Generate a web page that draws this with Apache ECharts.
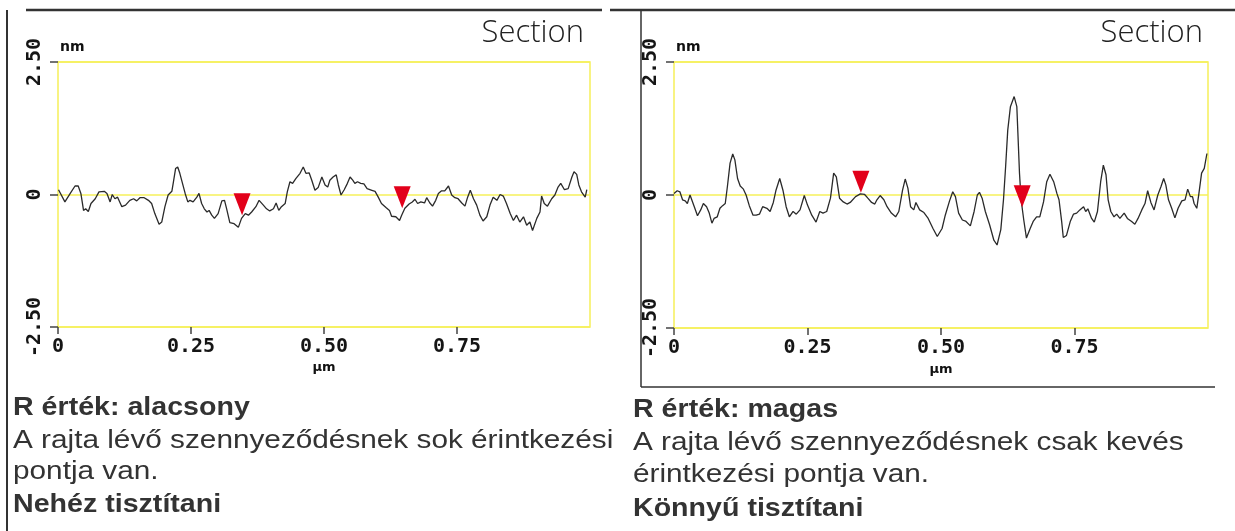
<!DOCTYPE html>
<html>
<head>
<meta charset="utf-8">
<script src="https://cdn.jsdelivr.net/npm/echarts@6/dist/echarts.min.js"></script>
<style>
html,body{margin:0;padding:0;background:#fff;}
#main{width:1235px;height:531px;}
</style>
</head>
<body>
<div id="main"></div>
<script>
// section profile, low R value (left)
var lowX = [0.001,0.013,0.023,0.032,0.038,0.043,0.048,0.052,0.057,0.062,
    0.070,0.077,0.087,0.092,0.098,0.102,0.107,0.112,0.120,0.127,
    0.135,0.142,0.148,0.154,0.162,0.170,0.176,0.182,0.190,0.195,
    0.201,0.207,0.214,0.217,0.221,0.225,0.229,0.234,0.239,0.244,
    0.248,0.254,0.261,0.265,0.270,0.275,0.280,0.284,0.289,0.294,
    0.301,0.308,0.313,0.317,0.323,0.331,0.339,0.345,0.352,0.358,
    0.364,0.372,0.378,0.386,0.392,0.398,0.405,0.410,0.415,0.420,
    0.427,0.431,0.436,0.441,0.447,0.455,0.461,0.466,0.472,0.477,
    0.483,0.489,0.496,0.502,0.507,0.511,0.517,0.523,0.527,0.532,
    0.538,0.544,0.549,0.554,0.558,0.563,0.569,0.575,0.581,0.590,
    0.596,0.602,0.608,0.617,0.623,0.627,0.635,0.642,0.646,0.652,
    0.660,0.666,0.671,0.676,0.682,0.689,0.693,0.699,0.704,0.710,
    0.715,0.721,0.727,0.734,0.740,0.746,0.752,0.759,0.765,0.770,
    0.775,0.781,0.787,0.793,0.799,0.806,0.812,0.818,0.825,0.831,
    0.837,0.843,0.850,0.856,0.862,0.868,0.875,0.881,0.887,0.892,
    0.900,0.906,0.909,0.914,0.920,0.928,0.934,0.940,0.945,0.952,
    0.959,0.966,0.970,0.975,0.979,0.984,0.991,0.994];
var lowY = [0.09,-0.14,0.02,0.16,0.16,0.02,-0.30,-0.27,-0.32,-0.17,
    -0.08,0.05,0.06,0.02,-0.14,0.00,-0.08,-0.05,-0.23,-0.20,
    -0.11,-0.08,-0.12,-0.06,-0.06,-0.11,-0.17,-0.36,-0.56,-0.52,
    -0.23,-0.01,0.06,0.24,0.49,0.52,0.40,0.21,0.02,-0.14,
    -0.11,-0.14,-0.05,0.02,-0.17,-0.27,-0.33,-0.30,-0.39,-0.45,
    -0.36,-0.12,-0.11,-0.27,-0.53,-0.55,-0.62,-0.45,-0.36,-0.39,
    -0.33,-0.23,-0.11,-0.20,-0.27,-0.31,-0.27,-0.16,-0.30,-0.23,
    -0.17,0.05,0.24,0.21,0.30,0.40,0.52,0.40,0.41,0.27,
    0.08,0.13,0.33,0.18,0.14,0.27,0.33,0.37,0.18,-0.01,
    0.09,0.21,0.33,0.27,0.21,0.24,0.21,0.20,0.11,0.08,
    0.06,-0.05,-0.17,-0.25,-0.30,-0.41,-0.42,-0.49,-0.39,-0.26,
    -0.18,-0.14,-0.09,-0.17,-0.14,-0.16,-0.06,-0.16,-0.22,-0.11,
    0.02,0.07,0.07,0.16,-0.01,-0.06,-0.08,-0.16,-0.22,-0.05,
    0.08,-0.08,-0.20,-0.39,-0.50,-0.42,-0.20,-0.05,-0.11,0.00,
    -0.03,-0.17,-0.36,-0.49,-0.39,-0.52,-0.42,-0.58,-0.52,-0.68,
    -0.45,-0.33,-0.03,-0.17,-0.22,-0.08,-0.01,0.14,0.21,0.09,
    0.11,0.33,0.43,0.38,0.18,0.05,-0.05,0.09];

// section profile, high R value (right)
var highX = [0.000,0.006,0.011,0.016,0.021,0.025,0.030,0.033,0.038,0.044,
    0.050,0.055,0.061,0.066,0.071,0.075,0.081,0.086,0.091,0.096,
    0.100,0.105,0.110,0.114,0.119,0.124,0.130,0.135,0.141,0.148,
    0.154,0.160,0.166,0.174,0.180,0.186,0.191,0.198,0.204,0.210,
    0.216,0.223,0.229,0.236,0.244,0.250,0.258,0.266,0.273,0.279,
    0.286,0.293,0.299,0.304,0.310,0.317,0.324,0.330,0.340,0.349,
    0.357,0.363,0.370,0.376,0.380,0.386,0.393,0.399,0.407,0.415,
    0.421,0.428,0.433,0.438,0.443,0.449,0.453,0.460,0.468,0.476,
    0.485,0.493,0.502,0.508,0.516,0.522,0.527,0.533,0.540,0.546,
    0.555,0.562,0.568,0.572,0.577,0.583,0.591,0.599,0.605,0.612,
    0.617,0.621,0.625,0.630,0.637,0.642,0.644,0.647,0.650,0.655,
    0.660,0.667,0.673,0.679,0.685,0.692,0.698,0.704,0.711,0.717,
    0.721,0.726,0.729,0.735,0.742,0.748,0.754,0.760,0.767,0.771,
    0.775,0.782,0.787,0.793,0.799,0.804,0.809,0.813,0.818,0.824,
    0.829,0.835,0.843,0.849,0.857,0.863,0.869,0.876,0.882,0.887,
    0.893,0.899,0.906,0.912,0.917,0.921,0.926,0.932,0.938,0.944,
    0.951,0.957,0.962,0.967,0.971,0.974,0.979,0.983,0.988,0.993,
    0.998];
var highY = [0.03,0.08,0.06,-0.09,-0.11,-0.16,0.00,-0.03,-0.22,-0.39,
    -0.28,-0.16,-0.22,-0.34,-0.53,-0.44,-0.41,-0.25,-0.20,-0.16,
    0.16,0.60,0.77,0.66,0.31,0.17,0.11,0.00,-0.20,-0.38,
    -0.38,-0.36,-0.22,-0.25,-0.31,-0.14,0.09,0.31,0.09,-0.22,
    -0.41,-0.31,-0.36,-0.28,-0.01,-0.19,-0.38,-0.51,-0.31,-0.34,
    -0.31,-0.06,0.41,0.34,-0.06,-0.13,-0.17,-0.14,-0.03,0.02,
    0.01,-0.06,-0.14,-0.17,-0.09,-0.01,-0.09,-0.22,-0.34,-0.41,
    -0.31,0.09,0.30,0.13,-0.22,-0.28,-0.14,-0.28,-0.33,-0.44,
    -0.63,-0.78,-0.63,-0.38,-0.11,0.06,-0.03,-0.34,-0.47,-0.49,
    -0.58,-0.31,0.00,0.05,-0.06,-0.31,-0.56,-0.85,-0.94,-0.65,
    -0.09,0.53,1.22,1.66,1.85,1.66,1.16,0.41,-0.09,-0.47,
    -0.81,-0.63,-0.49,-0.41,-0.41,-0.13,0.25,0.39,0.25,0.03,
    -0.09,-0.50,-0.80,-0.76,-0.50,-0.36,-0.34,-0.28,-0.22,-0.31,
    -0.26,-0.44,-0.51,-0.31,0.25,0.56,0.38,-0.09,-0.31,-0.41,
    -0.36,-0.44,-0.34,-0.44,-0.50,-0.55,-0.44,-0.28,-0.16,0.08,
    -0.14,-0.28,0.00,0.16,0.31,0.19,-0.09,-0.25,-0.43,-0.25,
    -0.11,-0.09,0.11,-0.03,-0.03,-0.16,-0.25,0.03,0.41,0.50,
    0.78];

// cursor (red triangle) positions
var lowCursorX = [0.346, 0.647];
var lowCursorY = [-0.39, -0.26];
var highCursorX = [0.350, 0.652];
var highCursorY = [0.04, -0.23];

var xTicks = [0, 0.25, 0.5, 0.75];
var yTicks = [-2.5, 0, 2.5];

function pairs(xs, ys) {
    return xs.map(function (x, i) { return [x, ys[i]]; });
}

var yellow = "#f6f05a";
var tickFont = { fontFamily: "DejaVu Sans Mono", fontWeight: "bold", fontSize: 20, color: "#151515" };

function makeX(gi) {
    return {
        type: "value", gridIndex: gi, min: 0, max: 1, interval: 0.25,
        name: "\u03bcm", nameLocation: "middle", nameGap: 34,
        nameTextStyle: { fontFamily: "DejaVu Sans", fontWeight: "bold", fontSize: 13, color: "#111" },
        axisLine: { show: false, onZero: false },
        axisTick: { show: true, length: 7, customValues: xTicks, lineStyle: { color: "#444", width: 1.5 } },
        axisLabel: Object.assign({
            margin: 10, customValues: xTicks,
            formatter: function (v) { return v === 0 ? "0" : v.toFixed(2); }
        }, tickFont),
        splitLine: { show: false }
    };
}

function makeY(gi) {
    return {
        type: "value", gridIndex: gi, min: -2.5, max: 2.5, interval: 2.5,
        name: "nm", nameLocation: "end", nameGap: 8,
        nameTextStyle: { align: "left", fontFamily: "DejaVu Sans", fontWeight: "bold", fontSize: 14, color: "#111", padding: [0, 0, 0, 2] },
        axisLine: { show: false, onZero: false },
        axisTick: { show: true, length: 8, customValues: yTicks, lineStyle: { color: "#444", width: 1.5 } },
        axisLabel: Object.assign({
            margin: 13, rotate: 90, customValues: yTicks,
            formatter: function (v) { return v === 0 ? "0" : v.toFixed(2); }
        }, tickFont),
        splitLine: { show: true, lineStyle: { color: yellow, width: 1.5 } }
    };
}

function cursor(xs, ys, gi) {
    return {
        type: "scatter", xAxisIndex: gi, yAxisIndex: gi,
        symbol: "triangle", symbolRotate: 180, symbolSize: [17, 22], symbolOffset: [0, -11],
        itemStyle: { color: "#e2001a", opacity: 1 }, z: 5,
        data: pairs(xs, ys)
    };
}

var bodyStyle = { fontFamily: "Liberation Sans", fontSize: 25, fill: "#333" };
var headStyle = { fontFamily: "Liberation Sans", fontWeight: "bold", fontSize: 26, fill: "#333" };
var sectionStyle = { fontFamily: "Open Sans", fontWeight: 300, fontSize: 31, color: "#222" };

function txt(x, y, text, st, sx) {
    return {
        type: "text", x: x, y: y, scaleX: sx,
        style: Object.assign({ text: text, verticalAlign: "middle" }, st)
    };
}

var myChart = echarts.init(document.getElementById("main"));
myChart.setOption({
    animation: false,
    backgroundColor: "#fff",
    title: [
        { text: "Section", right: 646, top: 13, textStyle: sectionStyle },
        { text: "Section", right: 27, top: 13, textStyle: sectionStyle }
    ],
    grid: [
        { left: 58, top: 62, width: 532, height: 265, show: true, borderColor: yellow, borderWidth: 1.5, backgroundColor: "transparent" },
        { left: 674, top: 62, width: 534, height: 266, show: true, borderColor: yellow, borderWidth: 1.5, backgroundColor: "transparent" }
    ],
    xAxis: [makeX(0), makeX(1)],
    yAxis: [makeY(0), makeY(1)],
    series: [
        {
            type: "line", xAxisIndex: 0, yAxisIndex: 0, symbol: "none",
            lineStyle: { color: "#2a2a2a", width: 1.3 }, z: 3,
            data: pairs(lowX, lowY)
        },
        cursor(lowCursorX, lowCursorY, 0),
        {
            type: "line", xAxisIndex: 1, yAxisIndex: 1, symbol: "none",
            lineStyle: { color: "#2a2a2a", width: 1.3 }, z: 3,
            data: pairs(highX, highY)
        },
        cursor(highCursorX, highCursorY, 1)
    ],
    graphic: [
        // frames
        { type: "line", shape: { x1: 7, y1: 10, x2: 7, y2: 531 }, style: { stroke: "#333", lineWidth: 2 } },
        { type: "line", shape: { x1: 26, y1: 10, x2: 602, y2: 10 }, style: { stroke: "#333", lineWidth: 2.5 } },
        { type: "line", shape: { x1: 610, y1: 10, x2: 1235, y2: 10 }, style: { stroke: "#333", lineWidth: 2.5 } },
        { type: "line", shape: { x1: 641, y1: 10, x2: 641, y2: 387 }, style: { stroke: "#333", lineWidth: 1.5 } },
        { type: "line", shape: { x1: 641, y1: 387, x2: 1215, y2: 387 }, style: { stroke: "#333", lineWidth: 1.5 } },
        // texts below
        txt(13, 408, "R érték: alacsony", headStyle, 1.1),
        txt(13, 441, "A rajta lévő szennyeződésnek sok érintkezési", bodyStyle, 1.19),
        txt(13, 472, "pontja van.", bodyStyle, 1.19),
        txt(13, 505, "Nehéz tisztítani", headStyle, 1.1),
        txt(633, 410, "R érték: magas", headStyle, 1.1),
        txt(633, 443, "A rajta lévő szennyeződésnek csak kevés", bodyStyle, 1.19),
        txt(633, 475, "érintkezési pontja van.", bodyStyle, 1.19),
        txt(633, 509, "Könnyű tisztítani", headStyle, 1.1)
    ]
});
</script>
</body>
</html>
